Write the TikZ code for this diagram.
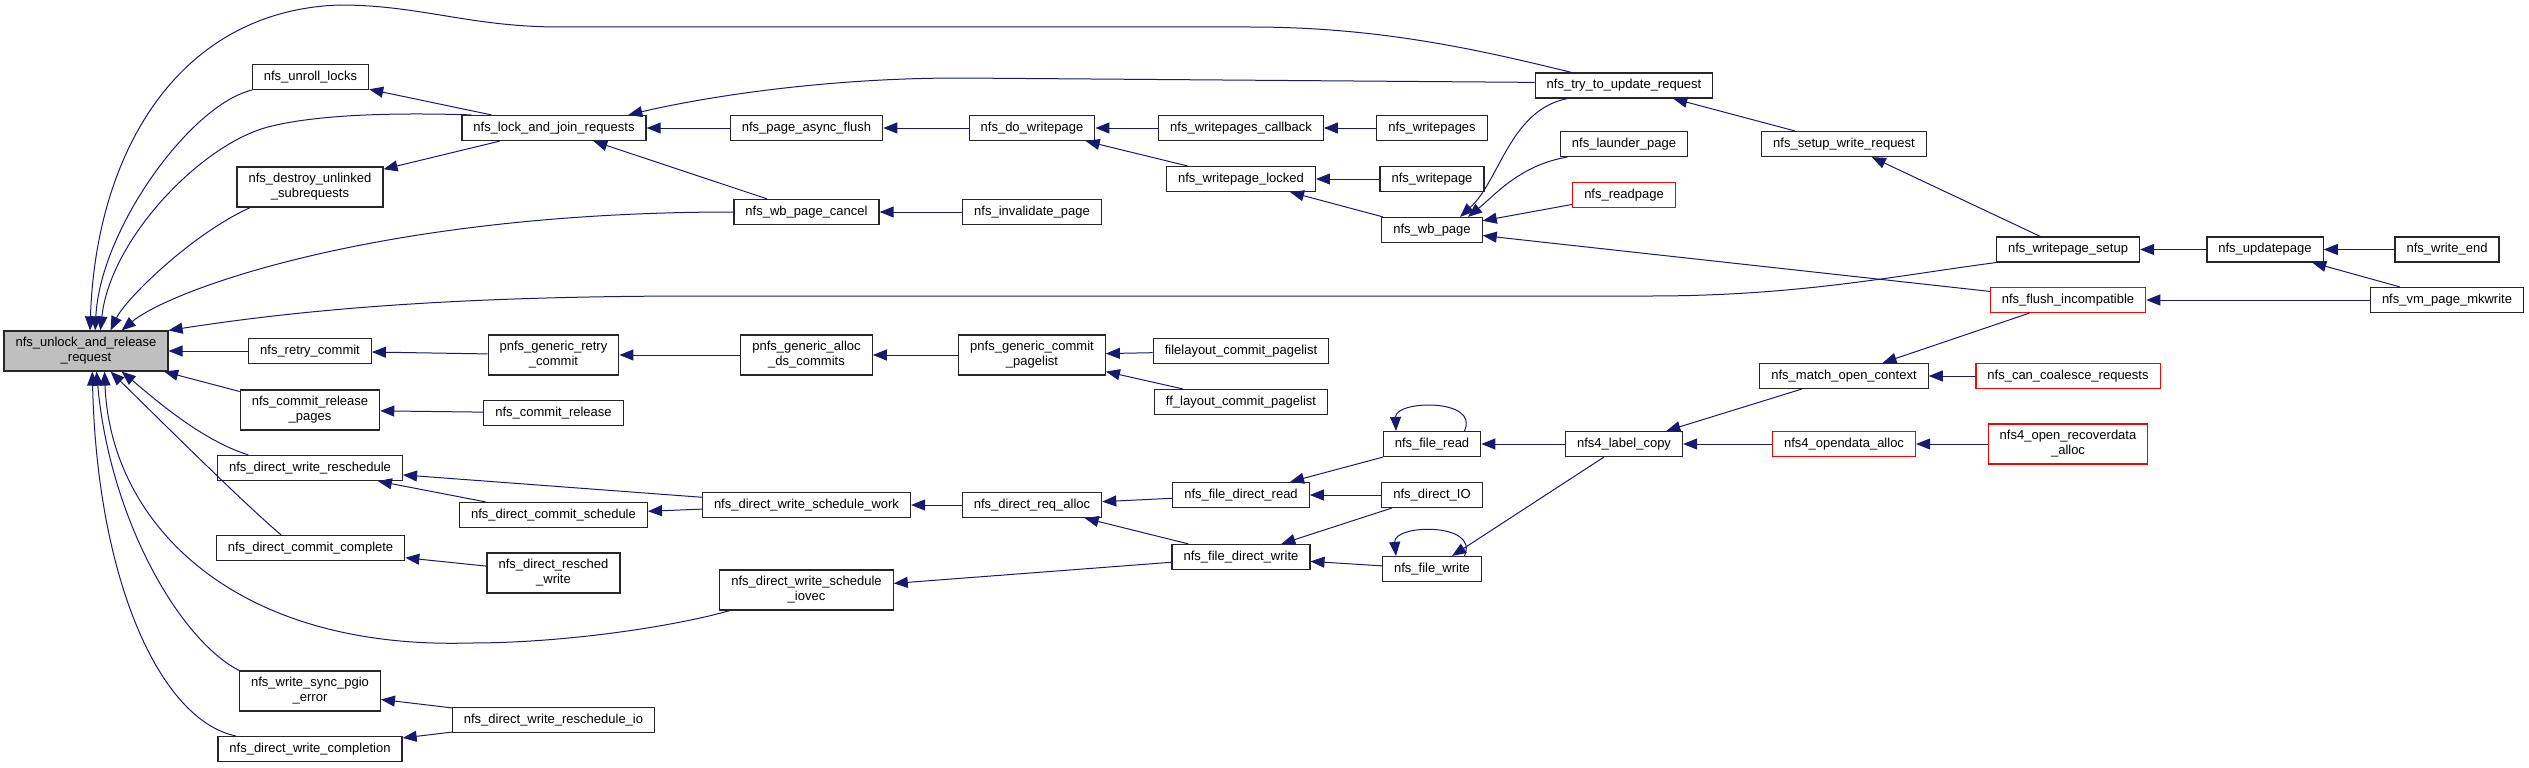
\documentclass[tikz,border=0pt]{standalone}
\usepackage{fontspec}
\setmainfont{Liberation Sans}
\usepackage{xcolor}
\usepackage{tikz}
\usetikzlibrary{arrows.meta}
\definecolor{edgeblue}{RGB}{25,25,112}
\definecolor{nodegray}{RGB}{191,191,191}
\definecolor{nodered}{RGB}{255,0,0}

\begin{document}
\begin{tikzpicture}[x=1pt, y=-1pt,
		func/.style={draw=black!85, line width=1.2pt, rectangle, fill=white, inner xsep=11.5pt, inner ysep=6pt, minimum height=25pt, align=center, font=\fontsize{13}{15}\selectfont},
		funcred/.style={func, draw=nodered},
		funcgray/.style={func, fill=nodegray},
		twoline/.style={minimum height=40pt},
		calls/.style={arrows={Triangle[length=14pt,width=11pt]-}, draw=edgeblue, line width=1pt}]
			\useasboundingbox (0,0) rectangle (2529,768);

			\node[funcgray, twoline] (unlock) at (86,351) {nfs\_unlock\_and\_release\\\_request};

			\node[func] (unroll) at (310.5,77) {nfs\_unroll\_locks};
			\node[func, twoline] (destroy) at (310,187) {nfs\_destroy\_unlinked\\\_subrequests};
			\node[func] (retry) at (310,351) {nfs\_retry\_commit};
			\node[func, twoline] (crpages) at (310,410) {nfs\_commit\_release\\\_pages};
			\node[func] (dwresched) at (310,468) {nfs\_direct\_write\_reschedule};
			\node[func] (dccomplete) at (310.5,548) {nfs\_direct\_commit\_complete};
			\node[func, twoline] (syncerr) at (310,691) {nfs\_write\_sync\_pgio\\\_error};
			\node[func] (dwcompl) at (310,749) {nfs\_direct\_write\_completion};

			\node[func] (lockjoin) at (554,128) {nfs\_lock\_and\_join\_requests};
			\node[func, twoline] (pnfsretry) at (553.5,355) {pnfs\_generic\_retry\\\_commit};
			\node[func] (crelease) at (553.5,413) {nfs\_commit\_release};
			\node[func] (dcschedule) at (553.5,515) {nfs\_direct\_commit\_schedule};
			\node[func, twoline] (reschedwrite) at (553.5,573) {nfs\_direct\_resched\\\_write};
			\node[func] (reschedio) at (553.5,720) {nfs\_direct\_write\_reschedule\_io};

			\node[func] (asyncflush) at (806.5,128) {nfs\_page\_async\_flush};
			\node[func] (wbcancel) at (806.5,212) {nfs\_wb\_page\_cancel};
			\node[func, twoline] (allocds) at (806.5,355) {pnfs\_generic\_alloc\\\_ds\_commits};
			\node[func] (schedwork) at (806.5,505) {nfs\_direct\_write\_schedule\_work};
			\node[func, twoline] (iovec) at (806.5,590) {nfs\_direct\_write\_schedule\\\_iovec};

			\node[func] (dowp) at (1032,128) {nfs\_do\_writepage};
			\node[func] (invalidate) at (1032,212) {nfs\_invalidate\_page};
			\node[func, twoline] (commitpl) at (1032,355) {pnfs\_generic\_commit\\\_pagelist};
			\node[func] (reqalloc) at (1032,505) {nfs\_direct\_req\_alloc};

			\node[func] (wpcallback) at (1241,128) {nfs\_writepages\_callback};
			\node[func] (wplocked) at (1241,179) {nfs\_writepage\_locked};
			\node[func] (filelayout) at (1241,351) {filelayout\_commit\_pagelist};
			\node[func] (fflayout) at (1241,402) {ff\_layout\_commit\_pagelist};
			\node[func] (fdread) at (1241,495) {nfs\_file\_direct\_read};
			\node[func] (fdwrite) at (1241,557) {nfs\_file\_direct\_write};

			\node[func] (writepages) at (1432,128) {nfs\_writepages};
			\node[func] (writepage) at (1432,179) {nfs\_writepage};
			\node[func] (wbpage) at (1432,230) {nfs\_wb\_page};
			\node[func] (fileread) at (1432,444) {nfs\_file\_read};
			\node[func] (directio) at (1432,495) {nfs\_direct\_IO};
			\node[func] (filewrite) at (1432,569) {nfs\_file\_write};

			\node[func] (try) at (1624,85.5) {nfs\_try\_to\_update\_request};
			\node[func] (launder) at (1624,144) {nfs\_launder\_page};
			\node[funcred] (readpage) at (1624,195) {nfs\_readpage};
			\node[func] (labelcopy) at (1624,444) {nfs4\_label\_copy};

			\node[func] (setupreq) at (1844,144) {nfs\_setup\_write\_request};
			\node[func] (matchctx) at (1844,376) {nfs\_match\_open\_context};
			\node[funcred] (opendata) at (1844,444) {nfs4\_opendata\_alloc};

			\node[func] (wpsetup) at (2068,249.5) {nfs\_writepage\_setup};
			\node[funcred] (flushinc) at (2068,300) {nfs\_flush\_incompatible};
			\node[funcred] (coalesce) at (2068,376) {nfs\_can\_coalesce\_requests};
			\node[funcred, twoline] (recoverdata) at (2068,444) {nfs4\_open\_recoverdata\\\_alloc};

			\node[func] (updatepage) at (2265,249.5) {nfs\_updatepage};
			\node[func] (writeend) at (2447,249.5) {nfs\_write\_end};
			\node[func] (mkwrite) at (2447,300) {nfs\_vm\_page\_mkwrite};

			\draw[calls] (unlock.79) .. controls (96,150) and (180,10) .. (340,5) .. controls (420,5) and (470,27) .. (560,27) -- (1250,27) .. controls (1380,27) and (1480,50) .. (try.166);
			\draw[calls] (unlock.66) .. controls (100,230) and (190,105) .. (unroll.south west);
			\draw[calls] (unlock.55) .. controls (110,240) and (200,145) .. (268,127) .. controls (310,116) and (380,112) .. (lockjoin.171);
			\draw[calls] (unlock.40) .. controls (125,300) and (190,235) .. (destroy.199);
			\draw[calls] (unlock.30) .. controls (170,290) and (380,212) .. (wbcancel.west);
			\draw[calls] (unlock.north east) .. controls (300,310) and (450,296) .. (700,296) -- (1650,296) .. controls (1800,296) and (1900,275) .. (wpsetup.south west);
			\draw[calls] (unlock) -- (retry);
			\draw[calls] (unlock) -- (crpages);
			\draw[calls] (unlock.-30) .. controls (150,395) and (200,440) .. (dwresched.168);
			\draw[calls] (unlock.-40) .. controls (150,410) and (240,500) .. (dccomplete.156);
			\draw[calls] (unlock.-48) .. controls (110,520) and (230,650) .. (470,643) .. controls (570,643) and (680,625) .. (iovec.195);
			\draw[calls] (unlock.-63) .. controls (110,520) and (180,640) .. (syncerr.north west);
			\draw[calls] (unlock.-73) .. controls (97,580) and (160,720) .. (dwcompl.170);

			\draw[calls] (unroll) -- (lockjoin);
			\draw[calls] (destroy) -- (lockjoin);
			\draw[calls] (lockjoin.10) .. controls (700,98) and (820,78) .. (960,78) -- (try.178);
			\draw[calls] (lockjoin) -- (asyncflush);
			\draw[calls] (lockjoin) -- (wbcancel);
			\draw[calls] (asyncflush) -- (dowp);
			\draw[calls] (dowp) -- (wpcallback);
			\draw[calls] (dowp) -- (wplocked);
			\draw[calls] (wpcallback) -- (writepages);
			\draw[calls] (wplocked) -- (writepage);
			\draw[calls] (wplocked) -- (wbpage);
			\draw[calls] (wbcancel) -- (invalidate);
			\draw[calls] (wbpage.25) .. controls (1500,180) and (1510,110) .. (try.193);
			\draw[calls] (wbpage.20) .. controls (1495,195) and (1520,165) .. (launder.193);
			\draw[calls] (wbpage) -- (readpage);
			\draw[calls] (wbpage) -- (flushinc);
			\draw[calls] (try) -- (setupreq);
			\draw[calls] (setupreq) -- (wpsetup);
			\draw[calls] (wpsetup) -- (updatepage);
			\draw[calls] (updatepage) -- (writeend);
			\draw[calls] (updatepage) -- (mkwrite);
			\draw[calls] (flushinc) -- (mkwrite);
			\draw[calls] (matchctx) -- (flushinc);
			\draw[calls] (matchctx) -- (coalesce);
			\draw[calls] (labelcopy) -- (matchctx);
			\draw[calls] (labelcopy) -- (opendata);
			\draw[calls] (opendata) -- (recoverdata);
			\draw[calls] (fileread) -- (labelcopy);
			\draw[calls] (fileread.160) .. controls (1395,400) and (1480,398) .. (fileread.22);
			\draw[calls] (filewrite) -- (labelcopy);
			\draw[calls] (filewrite.160) .. controls (1393,524) and (1480,522) .. (filewrite.22);
			\draw[calls] (fdread) -- (fileread);
			\draw[calls] (fdread) -- (directio);
			\draw[calls] (fdwrite) -- (directio);
			\draw[calls] (fdwrite) -- (filewrite);
			\draw[calls] (reqalloc) -- (fdread);
			\draw[calls] (reqalloc) -- (fdwrite);
			\draw[calls] (schedwork) -- (reqalloc);
			\draw[calls] (dwresched) -- (schedwork);
			\draw[calls] (dcschedule) -- (schedwork);
			\draw[calls] (dwresched) -- (dcschedule);
			\draw[calls] (iovec) -- (fdwrite);
			\draw[calls] (dccomplete) -- (reschedwrite);
			\draw[calls] (crpages) -- (crelease);
			\draw[calls] (retry) -- (pnfsretry);
			\draw[calls] (pnfsretry) -- (allocds);
			\draw[calls] (allocds) -- (commitpl);
			\draw[calls] (commitpl) -- (filelayout);
			\draw[calls] (commitpl) -- (fflayout);
			\draw[calls] (syncerr) -- (reschedio);
			\draw[calls] (dwcompl) -- (reschedio);
		\end{tikzpicture}
\end{document}
